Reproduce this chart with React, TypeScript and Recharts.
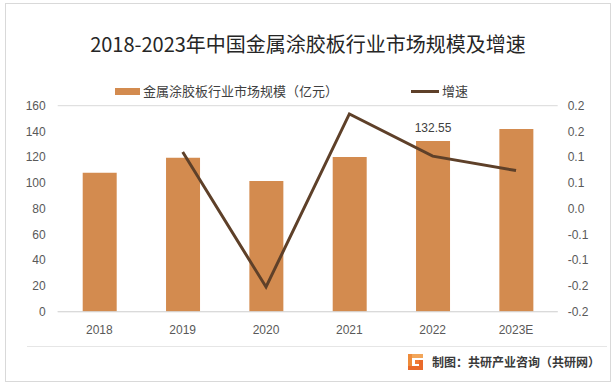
import { Bar, CartesianGrid, ComposedChart, LabelList, Line, XAxis, YAxis } from 'recharts';

const years = ['2018', '2019', '2020', '2021', '2022', '2023E'];
const marketSize = [108, 119.6, 101.5, 120.2, 132.55, 142];
const growthRate = [null, 0.11, -0.152, 0.184, 0.102, 0.074];
const leftTicks = [0, 20, 40, 60, 80, 100, 120, 140, 160];
const rightTicks = [-0.2, -0.15, -0.1, -0.05, 0, 0.05, 0.1, 0.15, 0.2];

const data = years.map((year, i) => ({
  year,
  size: marketSize[i],
  growth: growthRate[i],
}));

const BAR = '#D38B4F';
const LINE = '#5E4029';
const FONT = '"Liberation Sans", "Noto Sans CJK SC", sans-serif';
const CJK = '"Noto Sans CJK SC", sans-serif';

// excel style: round half away from zero, one decimal
const formatRate = (v: number): string => {
  const r = Math.round(Math.abs(v) * 10 + 1e-9) / 10;
  return (v < 0 ? '-' : '') + r.toFixed(1);
};

const tick = { fontSize: 12, fill: '#595959', fontFamily: FONT };

export default function App() {
  return (
    <div
      style={{
        position: 'fixed',
        left: 0,
        top: 0,
        width: 616,
        height: 385,
        background: '#fff',
        overflow: 'hidden',
      }}
    >
      <div
        style={{
          position: 'absolute',
          left: 5,
          top: 3,
          width: 606,
          height: 379,
          border: '1px solid #d9d9d9',
          boxSizing: 'border-box',
        }}
      />
      <div
        style={{
          position: 'absolute',
          left: 0,
          width: 616,
          top: 31,
          textAlign: 'center',
          fontFamily: CJK,
          fontSize: 20,
          lineHeight: '26px',
          color: '#262626',
        }}
      >
        2018-2023年中国金属涂胶板行业市场规模及增速
      </div>

      <div
        style={{
          position: 'absolute',
          left: 115,
          top: 82,
          display: 'flex',
          alignItems: 'center',
          fontFamily: CJK,
          fontSize: 13,
          lineHeight: '18px',
          color: '#404040',
        }}
      >
        <span style={{ width: 25, height: 7, background: BAR, marginRight: 3 }} />
        <span>金属涂胶板行业市场规模（亿元）</span>
        <span style={{ width: 28, height: 3, background: LINE, marginLeft: 73, marginRight: 3 }} />
        <span>增速</span>
      </div>

      <div style={{ position: 'absolute', left: 0, top: 0 }}>
        <ComposedChart
          width={616}
          height={385}
          data={data}
          margin={{ top: 105.7, right: 8.3, left: 7.7, bottom: 43.3 }}
        >
          <CartesianGrid stroke="#d9d9d9" vertical={false} />
          <XAxis
            dataKey="year"
            tick={tick}
            tickLine={false}
            axisLine={{ stroke: '#d9d9d9' }}
            tickMargin={8}
            height={30}
          />
          <YAxis
            yAxisId="left"
            domain={[0, 160]}
            ticks={leftTicks}
            tick={tick}
            tickLine={false}
            axisLine={false}
            width={50}
            tickMargin={6}
          />
          <YAxis
            yAxisId="right"
            orientation="right"
            domain={[-0.2, 0.2]}
            ticks={rightTicks}
            tickFormatter={formatRate}
            tick={tick}
            tickLine={false}
            axisLine={false}
            width={50}
            tickMargin={4}
          />
          <Bar yAxisId="left" dataKey="size" fill={BAR} barSize={34} isAnimationActive={false}>
            <LabelList
              dataKey="size"
              position="top"
              offset={9}
              formatter={(v: number) => (v === 132.55 ? '132.55' : '')}
              style={{ fontSize: 12, fill: '#404040', fontFamily: FONT }}
            />
          </Bar>
          <Line
            yAxisId="right"
            dataKey="growth"
            stroke={LINE}
            strokeWidth={3}
            dot={false}
            type="linear"
            isAnimationActive={false}
          />
        </ComposedChart>
      </div>

      <div
        style={{
          position: 'absolute',
          left: 27,
          top: 346,
          width: 580,
          height: 1,
          background: '#e6e6e6',
        }}
      />
      <div
        style={{
          position: 'absolute',
          left: 408,
          top: 353,
          display: 'flex',
          alignItems: 'center',
          fontFamily: CJK,
          fontSize: 12,
          fontWeight: 700,
          lineHeight: '17px',
          color: '#3a3a3a',
        }}
      >
        <svg width={15} height={16} style={{ marginRight: 9 }}>
          <rect x={0} y={0} width={15} height={4} fill="#F2A65A" />
          <rect x={0} y={0} width={4} height={16} fill="#EE8B3A" />
          <rect x={0} y={12} width={15} height={4} fill="#E96A2A" />
          <rect x={7} y={6} width={8} height={4} fill="#F07A34" />
          <rect x={11} y={6} width={4} height={10} fill="#E96A2A" />
        </svg>
        <span>制图：共研产业咨询（共研网）</span>
      </div>
    </div>
  );
}
